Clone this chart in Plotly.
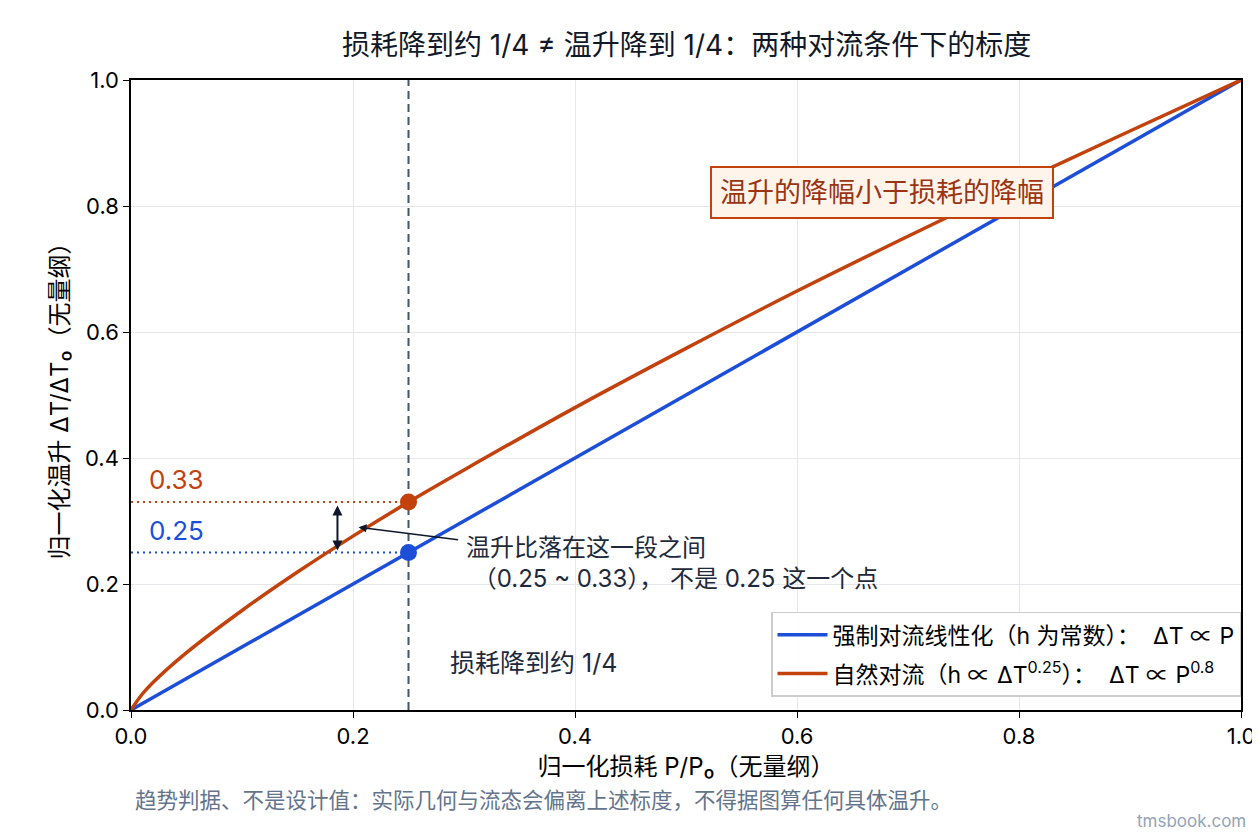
import plotly.graph_objects as go

# normalized loss P/P0
p_vals = [0, 0.01, 0.02, 0.05, 0.1, 0.15, 0.2, 0.25, 0.3, 0.4, 0.5, 0.6, 0.7, 0.8, 0.9, 1.0]
# forced convection (linear): dT/dT0
forced_vals = [0, 0.01, 0.02, 0.05, 0.1, 0.15, 0.2, 0.25, 0.3, 0.4, 0.5, 0.6, 0.7, 0.8, 0.9, 1.0]
# natural convection: dT/dT0
natural_vals = [0, 0.025, 0.044, 0.091, 0.158, 0.219, 0.276, 0.33, 0.381, 0.48, 0.574, 0.665, 0.752, 0.837, 0.919, 1.0]

marker_x = [0.25]
marker_forced = [0.25]
marker_natural = [0.33]

tick_vals = [0.0, 0.2, 0.4, 0.6, 0.8, 1.0]
tick_text = ["0.0", "0.2", "0.4", "0.6", "0.8", "1.0"]

BLUE = "#1d4ed8"
ORANGE = "#c2410c"
SLATE = "#475569"
INK = "#1e293b"
FONT = "Inter, Noto Sans CJK SC"

fig = go.Figure()

# reference lines at P = 0.25
fig.add_trace(go.Scatter(x=[0, marker_x[0]], y=[marker_natural[0]] * 2, mode="lines",
                         line=dict(color=ORANGE, width=2, dash="2px,4px"), showlegend=False, hoverinfo="skip"))
fig.add_trace(go.Scatter(x=[0, marker_x[0]], y=[marker_forced[0]] * 2, mode="lines",
                         line=dict(color=BLUE, width=2, dash="2px,4px"), showlegend=False, hoverinfo="skip"))
fig.add_trace(go.Scatter(x=[marker_x[0]] * 2, y=[0, 1], mode="lines",
                         line=dict(color=SLATE, width=2, dash="8px,5px"), showlegend=False, hoverinfo="skip"))

fig.add_trace(go.Scatter(
    x=p_vals, y=forced_vals, mode="lines", legendgroup="forced",
    line=dict(color=BLUE, width=3.5),
    name="强制对流线性化（h 为常数）：\u00a0\u00a0ΔT ∝ P",
))
fig.add_trace(go.Scatter(
    x=p_vals, y=natural_vals, mode="lines", line_shape="spline", legendgroup="natural",
    line=dict(color=ORANGE, width=3.5),
    name="自然对流（h ∝ ΔT<sup>0.25</sup>）：\u00a0\u00a0ΔT ∝ P<sup>0.8</sup>",
))

fig.add_trace(go.Scatter(x=marker_x, y=marker_forced, mode="markers",
                         marker=dict(color=BLUE, size=17), showlegend=False))
fig.add_trace(go.Scatter(x=marker_x, y=marker_natural, mode="markers",
                         marker=dict(color=ORANGE, size=17), showlegend=False))

annotations = [
    dict(x=0.014, y=0.33, xref="x", yref="y", text="0.33", showarrow=False,
         xanchor="left", yanchor="bottom", yshift=5, font=dict(size=26, color=ORANGE)),
    dict(x=0.014, y=0.25, xref="x", yref="y", text="0.25", showarrow=False,
         xanchor="left", yanchor="bottom", yshift=5, font=dict(size=26, color=BLUE)),
    # double arrow between the two levels
    dict(x=0.186, y=0.253, ax=0.186, ay=0.327, xref="x", yref="y", axref="x", ayref="y",
         text="", showarrow=True, arrowhead=2, arrowside="end+start", arrowsize=1,
         arrowwidth=2, arrowcolor="#0f172a", standoff=0, startstandoff=0),
    # arrow from explanation text to the curve
    dict(x=0.205, y=0.29, ax=0.296, ay=0.27, xref="x", yref="y", axref="x", ayref="y",
         text="", showarrow=True, arrowhead=2, arrowsize=1, arrowwidth=1.6,
         arrowcolor="#0f172a", standoff=0),
    dict(x=0.3, y=0.234, xref="x", yref="y", showarrow=False, xanchor="left", yanchor="middle",
         align="left",
         text="温升比落在这一段之间<br>\u00a0（0.25 ~ 0.33）， 不是 0.25 这一个点",
         font=dict(size=24, color=INK)),
    dict(x=0.2856, y=0.075, xref="x", yref="y", text="损耗降到约 1/4", showarrow=False,
         xanchor="left", yanchor="middle", font=dict(size=25, color=INK)),
    dict(x=0.677, y=0.822, xref="x", yref="y", text="温升的降幅小于损耗的降幅", showarrow=False,
         font=dict(size=27, color="#9a3412"), bgcolor="#fff4ea", bordercolor=ORANGE,
         borderwidth=2, borderpad=8),
    dict(x=0.002, y=-0.143, xref="paper", yref="paper", xanchor="left", yanchor="middle",
         text="趋势判据、不是设计值：实际几何与流态会偏离上述标度，不得据图算任何具体温升。",
         showarrow=False, font=dict(size=21.5, color="#64748b")),
    dict(x=1.006, y=-0.176, xref="paper", yref="paper", xanchor="right", yanchor="middle",
         text="tmsbook.com", showarrow=False, font=dict(size=17, color="#94a3b8")),
]

axis_common = dict(
    range=[0, 1], tickvals=tick_vals, ticktext=tick_text,
    showline=True, linecolor="black", linewidth=1.5, mirror=True,
    ticks="outside", ticklen=6, tickcolor="black",
    showgrid=True, gridcolor="#e5e7eb", gridwidth=1, zeroline=False,
    tickfont=dict(size=22, color="black"), ticklabeloverflow="allow",
    automargin=False,
)

# page body has an 8px margin, so the figure is sized to fit the 1260x840 window
fig.update_layout(
    width=1252, height=824,
    margin=dict(l=123, r=19, t=72, b=122),
    paper_bgcolor="white", plot_bgcolor="white",
    font=dict(family=FONT, color="black"),
    title=dict(text="损耗降到约 1/4 ≠ 温升降到 1/4：两种对流条件下的标度",
               x=0.542, xanchor="center", y=0.955, yanchor="middle",
               font=dict(size=28, color="#111827")),
    xaxis=dict(axis_common, title=dict(text="归一化损耗 P/P₀（无量纲）", font=dict(size=24), standoff=10)),
    yaxis=dict(axis_common, title=dict(text="归一化温升 ΔT/ΔT₀（无量纲）", font=dict(size=24), standoff=10)),
    legend=dict(x=1.0, y=0.021, xanchor="right", yanchor="bottom",
                bgcolor="rgba(255,255,255,0.9)", bordercolor="#cccccc", borderwidth=1.5,
                font=dict(size=23, color="black"), itemwidth=50, tracegroupgap=6),
    annotations=annotations,
    showlegend=True,
)

fig.write_html("out.html")
